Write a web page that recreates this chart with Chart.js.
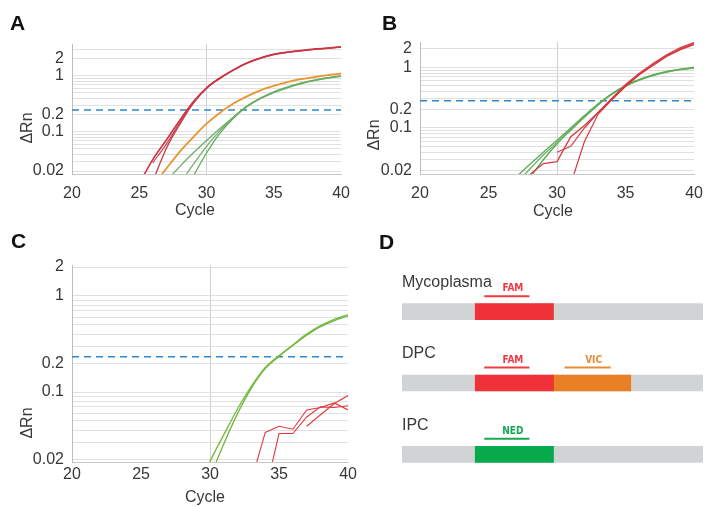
<!DOCTYPE html>
<html>
<head>
<meta charset="utf-8">
<script src="https://cdn.jsdelivr.net/npm/chart.js@4/dist/chart.umd.min.js"></script>
<style>
  body { margin: 0; background: #fff; font-family: "Liberation Sans", Arial, sans-serif; }
  #fig { position: relative; width: 713px; height: 507px; overflow: hidden; }
  .panel { position: absolute; }
  .letter { position: absolute; font-weight: bold; font-size: 21px; line-height: 1; color: #111; }
</style>
</head>
<body>
<div id="fig">
  <div class="panel" style="left:0;top:0"><canvas id="chartA" width="360" height="230"></canvas></div>
  <div class="panel" style="left:360px;top:0"><canvas id="chartB" width="353" height="230"></canvas></div>
  <div class="panel" style="left:0;top:230px"><canvas id="chartC" width="360" height="277"></canvas></div>
  <div class="panel" style="left:380px;top:230px"><canvas id="chartD" width="333" height="277"></canvas></div>
  <div class="letter" style="left:10px;top:12px">A</div>
  <div class="letter" style="left:382px;top:12px">B</div>
  <div class="letter" style="left:11px;top:230px">C</div>
  <div class="letter" style="left:379px;top:231px">D</div>
</div>
<script>
// cycles 20..40
const CYCLES = [20, 21, 22, 23, 24, 25, 26, 27, 28, 29, 30, 31, 32, 33, 34, 35, 36, 37, 38, 39, 40];
const X_TICKS = [20, 25, 30, 35, 40];
const Y_LABELS = [0.02, 0.1, 0.2, 1, 2];
const Y_GRID = [0.02, 0.03, 0.04, 0.05, 0.06, 0.07, 0.08, 0.09,
                0.1, 0.2, 0.3, 0.4, 0.5, 0.6, 0.7, 0.8, 0.9, 1, 2, 3];

// panel A
const A_RED_1 = [null, null, null, null, null, 0.012, 0.032, 0.071, 0.16, 0.34, 0.61, 0.92, 1.28, 1.7, 2.08, 2.42, 2.65, 2.83, 3.0, 3.13, 3.28];
const A_RED_2 = [null, null, null, null, null, null, 0.013, 0.05, 0.135, 0.32, 0.6, 0.9, 1.26, 1.68, 2.05, 2.4, 2.62, 2.8, 2.97, 3.1, 3.25];
const A_RED_3 = [null, null, null, null, null, null, 0.028, 0.06, 0.145, 0.33, 0.6, 0.91, 1.27, 1.69, 2.06, 2.41, 2.63, 2.81, 2.98, 3.11, 3.26];
const A_ORANGE = [null, null, null, null, null, null, 0.011, 0.022, 0.044, 0.08, 0.14, 0.22, 0.32, 0.43, 0.55, 0.66, 0.77, 0.87, 0.95, 1.03, 1.1];
const A_GREEN_1 = [null, null, null, null, null, null, null, 0.013, 0.024, 0.042, 0.07, 0.115, 0.185, 0.29, 0.4, 0.52, 0.63, 0.74, 0.84, 0.93, 1.0];
const A_GREEN_2 = [null, null, null, null, null, null, null, null, 0.012, 0.026, 0.055, 0.105, 0.18, 0.285, 0.4, 0.51, 0.62, 0.73, 0.83, 0.92, 0.99];
const A_GREEN_3 = [null, null, null, null, null, null, null, null, null, 0.016, 0.042, 0.095, 0.175, 0.28, 0.39, 0.5, 0.61, 0.72, 0.82, 0.91, 0.98];
const A_THRESHOLD = 0.245;

// panel B
const B_RED_1 = [null, null, null, null, null, null, null, null, 0.017, 0.026, 0.028, 0.072, 0.11, 0.18, 0.3, 0.5, 0.77, 1.1, 1.55, 2.0, 2.45];
const B_RED_2 = [null, null, null, null, null, null, null, null, null, null, 0.04, 0.05, 0.1, 0.18, 0.31, 0.52, 0.8, 1.15, 1.6, 2.1, 2.55];
const B_RED_3 = [null, null, null, null, null, null, null, null, null, null, null, 0.012, 0.06, 0.17, 0.29, 0.48, 0.75, 1.07, 1.5, 1.95, 2.35];
const B_GREEN_1 = [null, null, null, null, null, null, null, 0.0155, 0.025, 0.04, 0.063, 0.1, 0.16, 0.25, 0.37, 0.5, 0.63, 0.75, 0.85, 0.93, 1.0];
const B_GREEN_2 = [null, null, null, null, null, null, null, 0.012, 0.021, 0.036, 0.058, 0.095, 0.155, 0.245, 0.36, 0.49, 0.62, 0.74, 0.84, 0.92, 0.98];
const B_GREEN_3 = [null, null, null, null, null, null, null, null, 0.015, 0.03, 0.055, 0.092, 0.15, 0.24, 0.36, 0.49, 0.61, 0.73, 0.83, 0.91, 0.97];
const B_THRESHOLD = 0.28;

// panel C
const C_GREEN_1 = [null, null, null, null, null, null, null, null, null, 0.009, 0.019, 0.036, 0.067, 0.115, 0.18, 0.24, 0.31, 0.4, 0.49, 0.57, 0.64];
const C_GREEN_2 = [null, null, null, null, null, null, null, null, null, null, 0.013, 0.029, 0.06, 0.11, 0.175, 0.235, 0.305, 0.39, 0.48, 0.555, 0.62];
const C_RED_1 = [null, null, null, null, null, null, null, null, null, null, null, null, null, 0.012, 0.038, 0.044, 0.041, 0.065, 0.069, 0.077, 0.065];
const C_RED_2 = [null, null, null, null, null, null, null, null, null, null, null, null, null, null, 0.009, 0.037, 0.037, 0.055, 0.07, 0.069, 0.072];
const C_RED_3 = [null, null, null, null, null, null, null, null, null, null, null, null, null, null, null, null, null, 0.044, 0.058, 0.076, 0.092];
const C_THRESHOLD = 0.233;

// panel D (assay layout, arbitrary units along the template)
const D_ROWS = ['Mycoplasma', 'DPC', 'IPC'];
const D_TEMPLATE = [[0, 300], [0, 300], [0, 300]];
const D_FAM = [[73, 151], [73, 151], null];
const D_VIC = [null, [150, 228], null];
const D_NED = [null, null, [73, 151]];
const D_PROBES = [
  { row: 0, span: [82, 127], name: 'FAM', color: '#ee3a40' },
  { row: 1, span: [82, 127], name: 'FAM', color: '#ee3a40' },
  { row: 1, span: [162, 208], name: 'VIC', color: '#ea8a35' },
  { row: 2, span: [82, 127], name: 'NED', color: '#17a852' }
];

const FONT = { family: '"Liberation Sans", Arial, sans-serif', size: 16 };
const TEXT = '#383838';

function points(values) {
  const out = [];
  CYCLES.forEach((c, i) => { if (values[i] !== null) out.push({ x: c, y: values[i] }); });
  return out;
}

function curve(values, color, width, smooth) {
  return {
    data: points(values),
    borderColor: color,
    borderWidth: width,
    pointRadius: 0,
    tension: 0,
    cubicInterpolationMode: smooth ? 'monotone' : 'default',
    clip: 0
  };
}

function threshold(value) {
  return {
    data: [{ x: CYCLES[0], y: value }, { x: CYCLES[CYCLES.length - 1], y: value }],
    borderColor: '#2f86c6',
    borderWidth: 1.5,
    borderDash: [7, 5],
    pointRadius: 0,
    clip: 0
  };
}

const axisTitles = {
  id: 'axisTitles',
  afterDraw(chart, args, opts) {
    const ctx = chart.ctx;
    ctx.save();
    ctx.font = '16px "Liberation Sans", Arial, sans-serif';
    ctx.fillStyle = TEXT;
    ctx.textAlign = 'center';
    ctx.textBaseline = 'middle';
    ctx.fillText('Cycle', opts.x[0], opts.x[1]);
    ctx.translate(opts.y[0], opts.y[1]);
    ctx.rotate(-Math.PI / 2);
    ctx.fillText('\u0394Rn', 0, 0);
    ctx.restore();
  }
};

function qpcrChart(id, datasets, cfg) {
  const canvas = document.getElementById(id);
  return new Chart(canvas, {
    type: 'line',
    data: { datasets: datasets },
    options: {
      responsive: false,
      animation: false,
      layout: { padding: { top: cfg.area.top, right: canvas.width - cfg.area.right, left: 0, bottom: 0 } },
      plugins: {
        legend: { display: false },
        tooltip: { enabled: false },
        axisTitles: { x: cfg.xTitle, y: cfg.yTitle }
      },
      scales: {
        x: {
          type: 'linear',
          min: X_TICKS[0],
          max: X_TICKS[X_TICKS.length - 1],
          afterBuildTicks: s => { s.ticks = X_TICKS.map(v => ({ value: v })); },
          ticks: { padding: cfg.xPad, font: FONT, color: TEXT, maxRotation: 0 },
          grid: { color: c => (c.tick && c.tick.value === 30 ? '#cfcfcf' : 'rgba(0,0,0,0)'), drawTicks: false },
          border: { color: '#c8c8c8' },
          afterFit: s => { s.height = canvas.height - cfg.area.bottom; }
        },
        y: {
          type: 'logarithmic',
          min: cfg.yMin,
          max: cfg.yMax,
          afterBuildTicks: s => { s.ticks = Y_GRID.filter(v => v <= cfg.yMax).map(v => ({ value: v })); },
          ticks: {
            autoSkip: false,
            padding: 8,
            font: FONT,
            color: TEXT,
            callback: v => (Y_LABELS.includes(v) ? String(v) : '')
          },
          grid: { color: '#e0e0e0', drawTicks: false },
          border: { color: '#bdbdbd' },
          afterFit: s => { s.width = cfg.area.left; }
        }
      }
    },
    plugins: [axisTitles]
  });
}

qpcrChart('chartA', [
  curve(A_RED_1, '#cc3540', 1.6, true),
  curve(A_RED_2, '#c2434c', 1.4, true),
  curve(A_RED_3, '#c64750', 1.2, true),
  curve(A_GREEN_1, '#6aae63', 1.3, true),
  curve(A_GREEN_2, '#74b06c', 1.3, true),
  curve(A_GREEN_3, '#62a85c', 1.3, true),
  curve(A_ORANGE, '#ea9430', 1.8, true),
  threshold(A_THRESHOLD)
], { area: { left: 72, right: 349, top: 44, bottom: 174 }, yMin: 0.0177, yMax: 3.7, xPad: 10,
     xTitle: [195, 211], yTitle: [28, 128] });

qpcrChart('chartB', [
  curve(B_RED_1, '#d63a41', 1.3, false),
  curve(B_RED_2, '#cf4048', 1.2, false),
  curve(B_RED_3, '#d9363d', 1.2, false),
  curve(B_GREEN_1, '#5fae58', 1.4, true),
  curve(B_GREEN_2, '#6db366', 1.3, true),
  curve(B_GREEN_3, '#58a852', 1.3, true),
  threshold(B_THRESHOLD)
], { area: { left: 60, right: 342, top: 42, bottom: 174 }, yMin: 0.0175, yMax: 2.6, xPad: 10,
     xTitle: [193, 212], yTitle: [15, 135] });

qpcrChart('chartC', [
  curve(C_RED_1, '#e2393f', 1.1, false),
  curve(C_RED_2, '#e2393f', 1.1, false),
  curve(C_RED_3, '#e2393f', 1.1, false),
  curve(C_GREEN_1, '#79bb44', 1.4, true),
  curve(C_GREEN_2, '#72b63e', 1.3, true),
  threshold(C_THRESHOLD)
], { area: { left: 72, right: 349, top: 35, bottom: 232 }, yMin: 0.0187, yMax: 2.1, xPad: 3,
     xTitle: [205, 268], yTitle: [28, 193] });

const diagramLabels = {
  id: 'diagramLabels',
  afterDatasetsDraw(chart) {
    const ctx = chart.ctx;
    const xs = chart.scales.x;
    const ys = chart.scales.y;
    ctx.save();
    ctx.textBaseline = 'middle';
    ctx.textAlign = 'left';
    ctx.fillStyle = TEXT;
    ctx.font = '16px "Liberation Sans", Arial, sans-serif';
    D_ROWS.forEach((name, i) => {
      ctx.fillText(name, xs.getPixelForValue(0), ys.getPixelForValue(i) - 29);
    });
    ctx.textAlign = 'center';
    ctx.font = 'bold 10px "Liberation Sans Narrow", "Arial Narrow", "DejaVu Sans Condensed", sans-serif';
    D_PROBES.forEach(p => {
      const x0 = xs.getPixelForValue(p.span[0]);
      const x1 = xs.getPixelForValue(p.span[1]);
      const yc = ys.getPixelForValue(p.row);
      ctx.strokeStyle = p.color;
      ctx.lineWidth = 2;
      ctx.beginPath();
      ctx.moveTo(x0, yc - 15.5);
      ctx.lineTo(x1, yc - 15.5);
      ctx.stroke();
      ctx.fillStyle = p.color;
      ctx.fillText(p.name, (x0 + x1) / 2 + 6, yc - 23);
    });
    ctx.restore();
  }
};

new Chart(document.getElementById('chartD'), {
  type: 'bar',
  data: {
    labels: D_ROWS,
    datasets: [
      { data: D_FAM, backgroundColor: '#ef3237' },
      { data: D_VIC, backgroundColor: '#e98025' },
      { data: D_NED, backgroundColor: '#06a94c' },
      { data: D_TEMPLATE, backgroundColor: '#d1d3d4' }
    ]
  },
  options: {
    indexAxis: 'y',
    responsive: false,
    animation: false,
    layout: { padding: { left: 22, right: 10, top: 46, bottom: 17 } },
    datasets: { bar: { grouped: false, barThickness: 16, borderWidth: 0 } },
    scales: {
      x: { type: 'linear', min: 0, max: 300, display: false },
      y: { type: 'category', display: false }
    },
    plugins: { legend: { display: false }, tooltip: { enabled: false } }
  },
  plugins: [diagramLabels]
});
</script>
</body>
</html>
